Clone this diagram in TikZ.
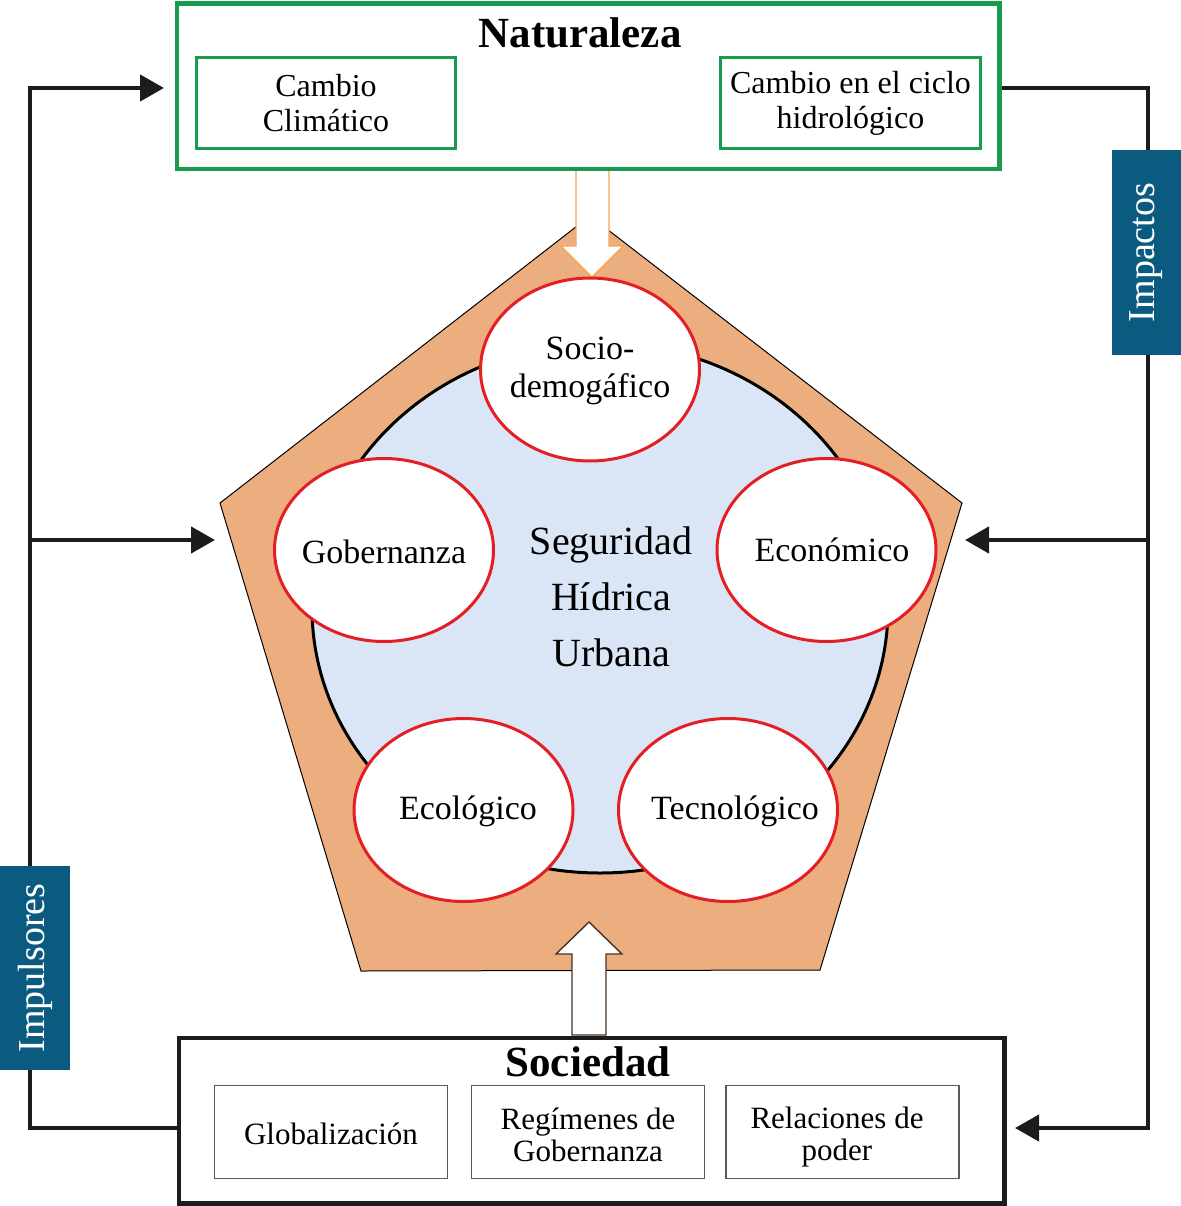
\documentclass[tikz,border=0pt]{standalone}
\usepackage{fontspec}
\setmainfont{Liberation Serif}
\usetikzlibrary{arrows.meta,shapes.geometric}

\definecolor{natgreen}{HTML}{1A9B4B}
\definecolor{impblue}{HTML}{0B5A80}
\definecolor{pentorange}{HTML}{EDAE7F}
\definecolor{waterblue}{HTML}{DAE6F5}
\definecolor{ellred}{HTML}{E31E24}
\definecolor{arroworange}{HTML}{F2A65A}
\definecolor{arrowbrown}{HTML}{4A3020}
\definecolor{linek}{HTML}{1C1C1C}

\begin{document}
\begin{tikzpicture}[x=1pt,y=-1pt,
  conn/.style={line width=4.5pt, draw=linek},
  tipped/.style={conn, -{Triangle[length=24pt,width=26pt]}},
  greenbox/.style={draw=natgreen, line width=3pt, rectangle, inner sep=2pt},
  blackbox/.style={draw=linek, line width=3pt, rectangle, inner sep=0pt},
  graybox/.style={draw=black!65, line width=1.2pt, rectangle, inner sep=2pt,
    minimum width=233pt, minimum height=93pt},
  graytext/.style={align=center, inner sep=0pt, font=\fontsize{31}{32}\selectfont},
  bigtitle/.style={font=\fontsize{43}{46}\selectfont\bfseries, inner sep=0pt},
  boxtext/.style={font=\fontsize{32}{35}\selectfont, align=center},
  tagbox/.style={fill=impblue, text=white, rotate=90, inner sep=0pt,
    font=\fontsize{38}{40}\selectfont},
  aspect/.style={ellipse, draw=ellred, fill=white, line width=3pt, inner sep=0pt,
    minimum width=219pt, minimum height=183pt},
  aspecttext/.style={font=\fontsize{34}{38}\selectfont, align=center, inner sep=0pt},
  bigarrow/.style={fill=white, line width=1.4pt, line join=miter}
]
\useasboundingbox (0,0) rectangle (1180,1206);

% outer frames
\node[greenbox, minimum width=821pt, minimum height=164pt] (nat) at (588,86.5) {};
\node[blackbox, minimum width=824pt, minimum height=164pt] (soc) at (591.5,1120.5) {};

% corner points of the feedback loops
\coordinate (lt) at (30,88);
\coordinate (lm) at (30,540);
\coordinate (lb) at (30,1128);
\coordinate (rt) at (1148,88);
\coordinate (rm) at (1148,540);
\coordinate (rb) at (1148,1128);
\coordinate (pl) at (215,540);
\coordinate (pr) at (965,540);

% drivers loop (left) and impacts loop (right)
\draw[conn, tipped, shorten >=12pt, line join=miter] (soc.west |- lb) -- (lb) -- (lt) -- (nat.west |- lt);
\draw[tipped] (lm) -- (pl);
\draw[conn, tipped, shorten >=10pt, line join=miter] (nat.east |- rt) -- (rt) -- (rb) -- (soc.east |- rb);
\draw[tipped] (rm) -- (pr);

% loop labels
\node[tagbox, minimum width=204pt, minimum height=70pt] (impul) at (35,968) {Impulsores};
\node[tagbox, minimum width=205pt, minimum height=69pt] (impac) at (1146,252.5) {Impactos};

% urban water security pentagon
\filldraw[fill=pentorange, draw=black, line width=1pt, line join=miter]
  (590,216) -- (962,503) -- (820,970) -- (361,971) -- (220,503) -- cycle;
\filldraw[fill=waterblue, draw=black, line width=3pt] (600,608) ellipse [x radius=288, y radius=265];

% inflow arrows
\draw[bigarrow, draw=arroworange]
  (576,170) -- (576,246) -- (561,246) -- (592,277) -- (623,246) -- (609,246) -- (609,170) -- cycle;
\draw[bigarrow, draw=arrowbrown]
  (572,1035) -- (572,954) -- (556,954) -- (589,922) -- (622,954) -- (606,954) -- (606,1035) -- cycle;
\draw[greenbox] (nat.north west) rectangle (nat.south east);
\draw[blackbox] (soc.north west) rectangle (soc.south east);

% Naturaleza
\node[bigtitle] (natT) at (580,33) {Naturaleza};
\node[greenbox, minimum width=259pt, minimum height=91pt, boxtext] (cc) at (326,103) {Cambio\\Climático};
\node[greenbox, minimum width=260pt, minimum height=91pt, boxtext] (ch) at (850.5,103) {Cambio en el ciclo\\hidrológico};

% Sociedad
\node[bigtitle] (socT) at (588,1062) {Sociedad};
\node[graybox] (glob) at (331,1132) {};
\node[graybox] (reg) at (588,1132) {};
\node[graybox] (rel) at (842.5,1132) {};
\node[graytext] at (331,1134) {Globalización};
\node[graytext] at (588,1135) {Regímenes de\\Gobernanza};
\node[graytext] at (837,1137) {Relaciones de\\poder};

% centre
\node[font=\fontsize{40}{56}\selectfont, align=center, inner sep=0pt] (swu) at (611,597) {Seguridad\\Hídrica\\Urbana};

% dimensions
\node[aspect] (socio) at (590,369.5) {};
\node[aspect] (gob) at (384,550) {};
\node[aspect] (eco) at (826.5,550) {};
\node[aspect] (ecol) at (463.5,810) {};
\node[aspect] (tec) at (728,810) {};
\node[aspecttext] at (590,371) {Socio-\\demogáfico};
\node[aspecttext] at (384,552) {Gobernanza};
\node[aspecttext] at (832,550) {Económico};
\node[aspecttext] at (468,811) {Ecológico};
\node[aspecttext] at (735,811) {Tecnológico};
\end{tikzpicture}
\end{document}
